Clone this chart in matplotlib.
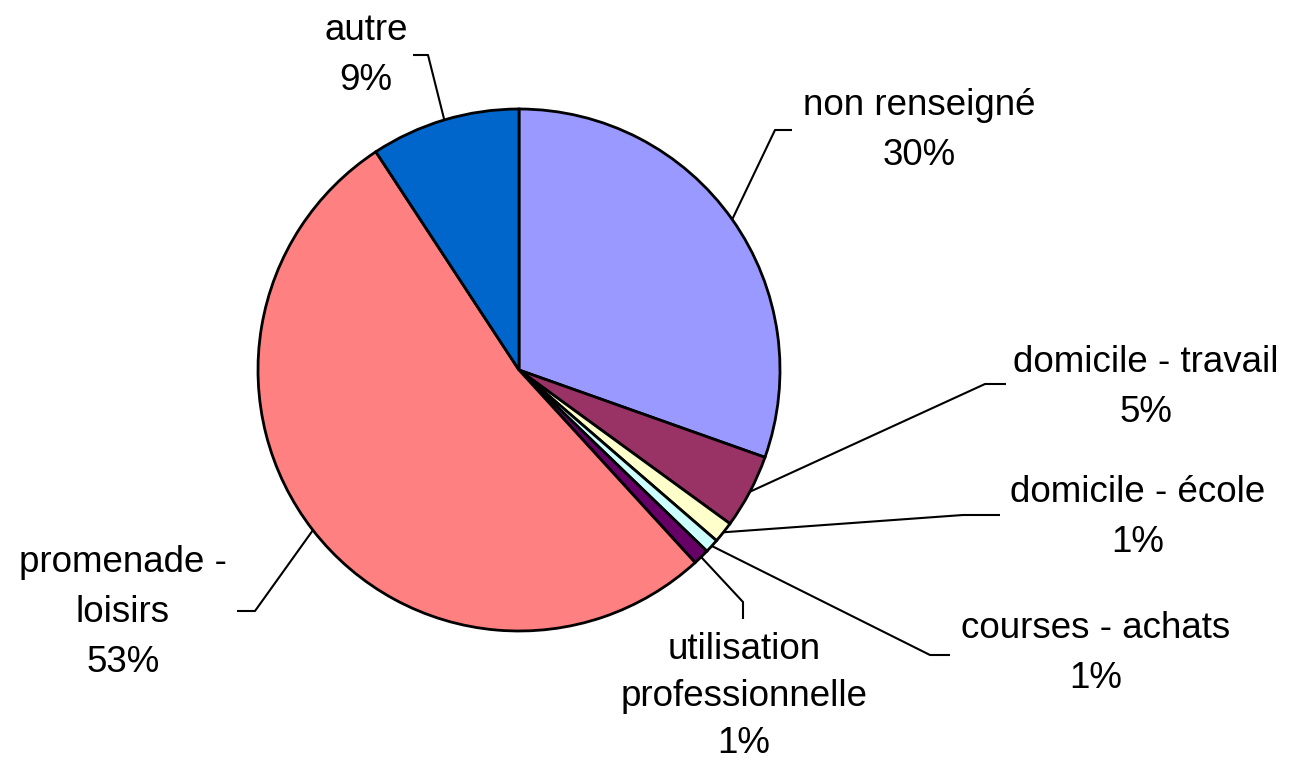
import numpy as np
import matplotlib
matplotlib.use("Agg")
import matplotlib.pyplot as plt

# ---- data (clockwise from 12 o'clock) ----
categories = ["non renseigné", "domicile - travail", "domicile - école",
              "courses - achats", "utilisation professionnelle",
              "promenade - loisirs", "autre"]
values = [30.43, 4.59, 1.32, 0.87, 1.00, 52.55, 9.24]
colors = ["#9999FF", "#993366", "#FFFFCC", "#CCFFFF", "#660066", "#FF8080", "#0066CC"]
label_lines = [["non renseigné"], ["domicile - travail"], ["domicile - école"],
               ["courses - achats"], ["utilisation", "professionnelle"],
               ["promenade -", "loisirs"], ["autre"]]

W, H = 1289, 763
fig = plt.figure(figsize=(W / 100, H / 100), dpi=100)
ax = fig.add_axes([0, 0, 1, 1])

cx, cy, R = 519, H - 370, 261
wedges, _ = ax.pie(values, colors=colors, startangle=90, counterclock=False,
                   center=(cx, cy), radius=R, frame=True,
                   wedgeprops=dict(edgecolor="black", linewidth=2.0))
ax.set_xlim(0, W)
ax.set_ylim(0, H)
ax.set_aspect("equal")
ax.axis("off")

FONT = dict(family=["Liberation Sans", "DejaVu Sans"], fontsize=26.5, color="black")

# label layout: (center x, first baseline y in pixels from top, line gap), leader elbow points
layout = [
    (919, 115, 50, [(775, 130), (792, 130)]),
    (1146, 372, 50, [(985, 384), (1006, 384)]),
    (1138, 502, 50, [(963, 515), (1000, 515)]),
    (1096, 638, 50, [(930, 655), (950, 655)]),
    (744, 659, 47, [(743, 602), (743, 619)]),
    (123, 572, 50, [(255, 611), (237, 611)]),
    (366, 40, 50, [(428, 55), (413, 55)]),
]

for w, v, lines, (lx, ly, gap, elbow) in zip(wedges, values, label_lines, layout):
    texts = lines + [f"{round(v):d}%"]
    for i, t in enumerate(texts):
        ax.text(lx, H - (ly + i * gap), t, ha="center", va="baseline", **FONT)
    mid = np.deg2rad((w.theta1 + w.theta2) / 2)
    sx, sy = cx + R * np.cos(mid), cy + R * np.sin(mid)
    xs = [sx] + [p[0] for p in elbow]
    ys = [sy] + [H - p[1] for p in elbow]
    ax.plot(xs, ys, color="black", linewidth=1.5, solid_capstyle="butt")

fig.savefig("out.png", dpi=100, facecolor="white")
